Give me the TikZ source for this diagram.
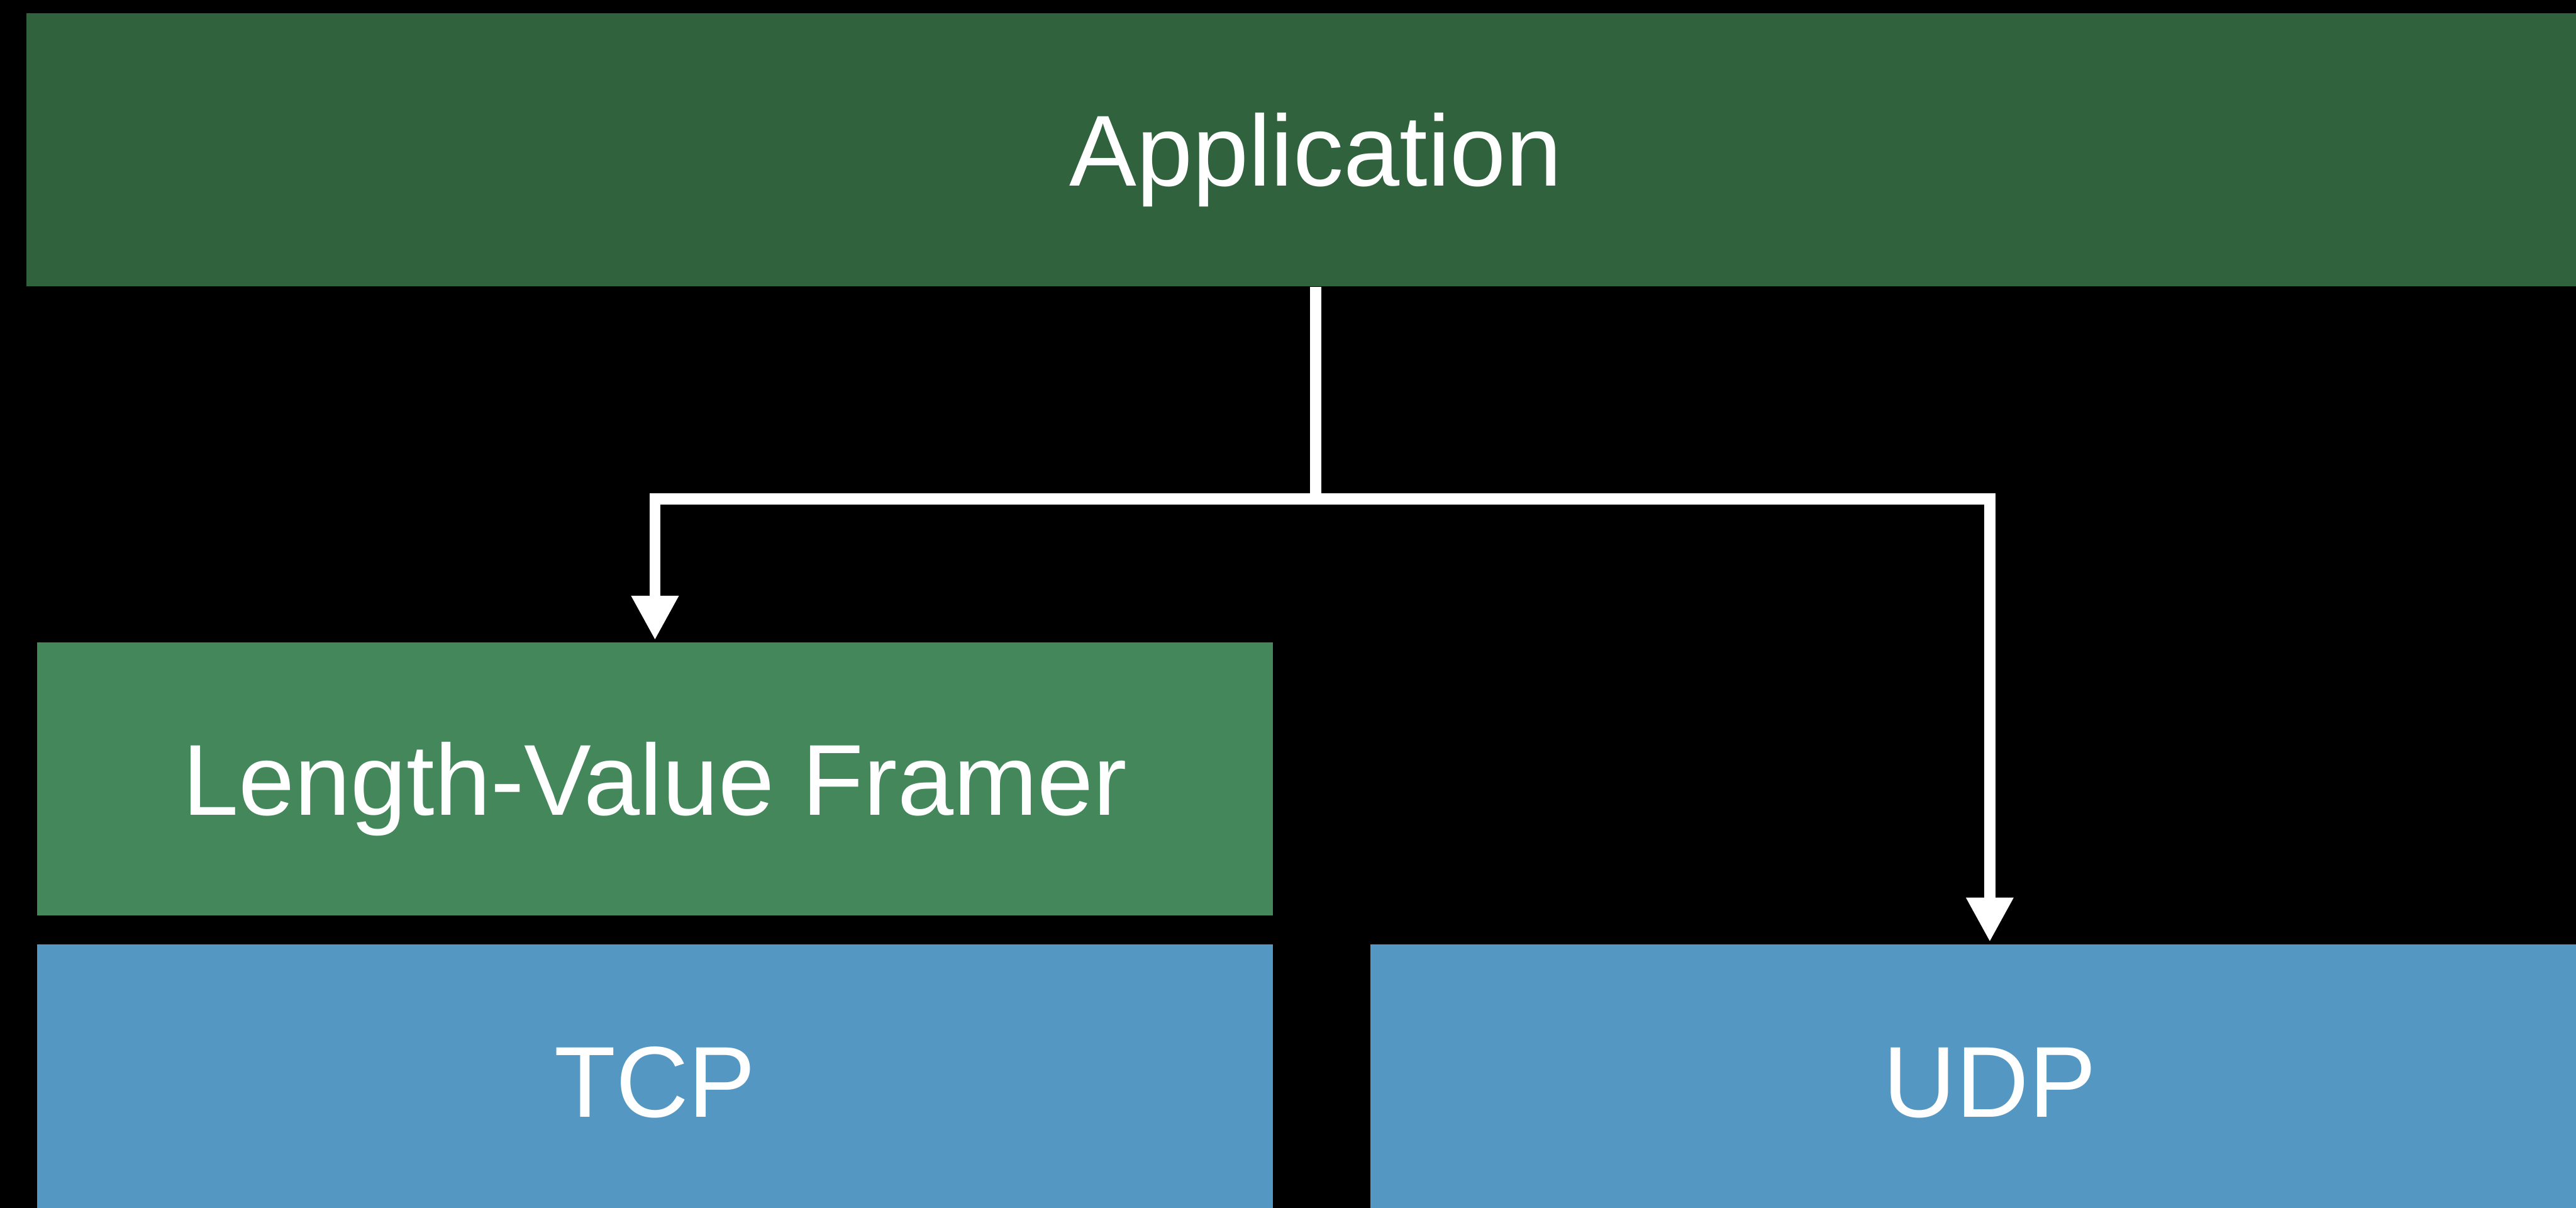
\documentclass[tikz,border=0pt]{standalone}
\usepackage{fontspec}
\setmainfont{Liberation Sans}
\usetikzlibrary{arrows.meta}

\definecolor{appgreen}{RGB}{48,98,61}
\definecolor{framergreen}{RGB}{67,135,91}
\definecolor{transportblue}{RGB}{83,151,194}

\tikzset{
  layer/.style={rectangle, draw=none, inner sep=0pt, text=white,
    font=\fontsize{53.6}{60}\selectfont, text height=1.35cm, text depth=0pt},
  conn/.style={draw=white, line width=0.21cm, line join=miter,
    -{Triangle[width=0.83cm, length=0.83cm]}, shorten >=0.04cm}
}

\begin{document}
\begin{tikzpicture}
  % page frame and black backdrop
  \useasboundingbox (0,0) rectangle (48.16,-22.57);
  \clip (0,0) rectangle (48.16,-22.57);
  \fill[black] (0,0) rectangle (48.16,-22.57);

  % protocol stack layers
  \node[layer, fill=appgreen, minimum width=48.22cm, minimum height=5.10cm]
    (app) at (24.60,-2.80) {Application};
  \node[layer, fill=framergreen, minimum width=23.11cm, minimum height=5.10cm]
    (lv) at (12.245,-14.56) {Length-Value Framer};
  \node[layer, fill=transportblue, minimum width=23.11cm, minimum height=5.10cm]
    (tcp) at (12.245,-20.20) {TCP};
  \node[layer, fill=transportblue, minimum width=23.16cm, minimum height=5.10cm]
    (udp) at (37.20,-20.20) {UDP};

  % branching connector
  \path (app.south) ++(0,-3.97) coordinate (fork);
  \draw[conn] (app.south) -- (fork) -| (lv.north);
  \draw[conn] (app.south) -- (fork) -| (udp.north);
\end{tikzpicture}
\end{document}
